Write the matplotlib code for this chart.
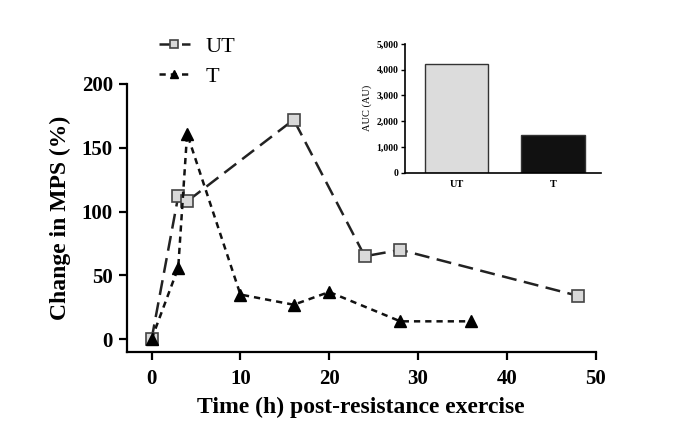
import numpy as np
import matplotlib.pyplot as plt

plt.rcParams['font.family'] = ['Liberation Serif', 'DejaVu Serif']

# data
ut_time = [0, 3, 4, 16, 24, 28, 48]
ut_mps = [0, 112, 108, 172, 65, 70, 34]
t_time = [0, 3, 4, 10, 16, 20, 28, 36]
t_mps = [0, 56, 161, 35, 27, 37, 14, 14]

auc_groups = ['UT', 'T']
auc_values = [4200, 1450]

fig = plt.figure(figsize=(7, 4.22), dpi=100)
ax = fig.add_axes([0.181, 0.166, 0.670, 0.635])

ax.plot(ut_time, ut_mps, color='#222222', lw=1.8, dashes=(6, 3),
        marker='s', markersize=8, markerfacecolor='#d9d9d9',
        markeredgecolor='#444444', markeredgewidth=1.2, label='UT')
ax.plot(t_time, t_mps, color='#111111', lw=1.8, dashes=(2.5, 2),
        marker='^', markersize=8, markerfacecolor='black',
        markeredgecolor='black', label='T')

ax.set_xlim(-2.8, 50)
ax.set_ylim(-10, 200)
ax.set_xticks([0, 10, 20, 30, 40, 50])
ax.set_yticks([0, 50, 100, 150, 200])
for s in ['top', 'right']:
    ax.spines[s].set_visible(False)
for s in ['left', 'bottom']:
    ax.spines[s].set_linewidth(1.6)
ax.tick_params(width=1.6, length=6, labelsize=15)
ax.tick_params(axis='x', pad=6)
ax.tick_params(axis='y', pad=4)
for lab in ax.get_xticklabels() + ax.get_yticklabels():
    lab.set_fontweight('bold')
ax.set_xlabel('Time (h) post-resistance exercise', fontsize=17,
              fontweight='bold', labelpad=6)
ax.set_ylabel('Change in MPS (%)', fontsize=17, fontweight='bold',
              labelpad=8)

leg = ax.legend(loc='upper left', bbox_to_anchor=(0.198, 0.962),
                bbox_transform=fig.transFigure, frameon=False,
                fontsize=16, handlelength=1.4, handletextpad=0.7,
                labelspacing=0.45, markerscale=0.75)

# inset bar chart
ins = fig.add_axes([0.579, 0.591, 0.279, 0.305])
ins.bar([0, 1], auc_values, width=0.66, color=['#dcdcdc', '#111111'],
        edgecolor='#333333', linewidth=1.0)
ins.set_xlim(-0.53, 1.49)
ins.set_ylim(0, 5000)
ins.set_xticks([0, 1])
ins.set_xticklabels(auc_groups)
ins.set_yticks([0, 1000, 2000, 3000, 4000, 5000])
ins.set_yticklabels(['0', '1,000', '2,000', '3,000', '4,000', '5,000'])
for s in ['top', 'right']:
    ins.spines[s].set_visible(False)
for s in ['left', 'bottom']:
    ins.spines[s].set_linewidth(1.2)
ins.tick_params(axis='y', width=1, length=3, labelsize=7, pad=2)
ins.tick_params(axis='x', length=0, labelsize=7.5, pad=5)
for lab in ins.get_xticklabels() + ins.get_yticklabels():
    lab.set_fontweight('bold')
ins.set_ylabel('AUC (AU)', fontsize=7.5, labelpad=3)

fig.savefig('out.png', dpi=100)
